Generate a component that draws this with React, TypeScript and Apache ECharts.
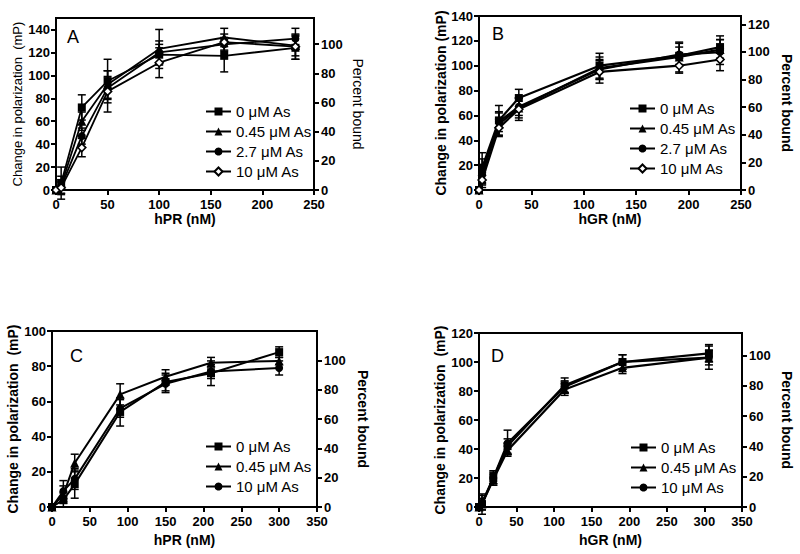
import React, { useEffect, useRef } from "react";
import * as echarts from "echarts";

const FONT = "'Liberation Sans', Arial, Helvetica, sans-serif";

// ---------- Panel A (hPR) ----------
const aX = [0, 5, 25, 50, 100, 163, 232];
const aNames = ["0 μM As", "0.45 μM As", "2.7 μM As", "10 μM As"];
const aY0 = [0, 6, 72, 95, 118, 117, 124];
const aY045 = [0, 4, 60, 92, 123, 133, 126];
const aY27 = [0, 3, 47, 89, 120, 127, 132];
const aY10 = [0, 2, 37, 86, 111, 129, 125];
const aE0 = [0, 14, 11, 19, 9, 14, 10];
const aE045 = [0, 8, 8, 12, 17, 8, 9];
const aE27 = [0, 6, 7, 10, 10, 6, 9];
const aE10 = [0, 5, 8, 18, 13, 7, 11];
const aLeftTicks = [0, 20, 40, 60, 80, 100, 120, 140];
const aRightTicks = [0, 20, 40, 60, 80, 100];
const aXTicks = [0, 50, 100, 150, 200, 250];

// ---------- Panel B (hGR) ----------
const bX = [0, 3, 19, 38, 115, 191, 230];
const bNames = ["0 μM As", "0.45 μM As", "2.7 μM As", "10 μM As"];
const bY0 = [0, 18, 56, 74, 100, 108, 115];
const bY045 = [0, 15, 53, 66, 98, 107, 113];
const bY27 = [0, 12, 55, 67, 97, 109, 111];
const bY10 = [0, 8, 50, 65, 95, 100, 105];
const bE0 = [0, 12, 12, 7, 10, 7, 9];
const bE045 = [0, 10, 9, 8, 9, 12, 8];
const bE27 = [0, 8, 8, 7, 8, 9, 10];
const bE10 = [0, 6, 7, 9, 9, 6, 9];
const bLeftTicks = [0, 20, 40, 60, 80, 100, 120, 140];
const bRightTicks = [0, 20, 40, 60, 80, 100, 120];
const bXTicks = [0, 50, 100, 150, 200, 250];

// ---------- Panel C (hPR) ----------
const cX = [0, 15, 30, 90, 150, 210, 300];
const cNames = ["0 μM As", "0.45 μM As", "10 μM As"];
const cY0 = [0, 4, 13, 54, 71, 76, 88];
const cY045 = [0, 7, 25, 64, 74, 82, 83];
const cY10 = [0, 9, 16, 56, 70, 77, 79];
const cE0 = [0, 4, 8, 8, 5, 7, 3];
const cE045 = [0, 5, 5, 6, 4, 3, 2];
const cE10 = [0, 6, 6, 5, 5, 4, 4];
const cLeftTicks = [0, 20, 40, 60, 80, 100];
const cRightTicks = [0, 20, 40, 60, 80, 100];
const cXTicks = [0, 50, 100, 150, 200, 250, 300, 350];

// ---------- Panel D (hGR) ----------
const dX = [0, 4, 19, 38, 114, 191, 306];
const dNames = ["0 μM As", "0.45 μM As", "10 μM As"];
const dY0 = [0, 2, 20, 42, 84, 100, 106];
const dY045 = [0, 2, 19, 39, 81, 96, 103];
const dY10 = [0, 3, 20, 44, 83, 100, 103];
const dE0 = [0, 7, 5, 5, 5, 5, 6];
const dE045 = [0, 4, 4, 3, 4, 4, 5];
const dE10 = [0, 5, 4, 9, 4, 5, 8];
const dLeftTicks = [0, 20, 40, 60, 80, 100, 120];
const dRightTicks = [0, 20, 40, 60, 80, 100];
const dXTicks = [0, 50, 100, 150, 200, 250, 300, 350];

type SymDef = { symbol: string; fill: string };
const SQUARE: SymDef = { symbol: "rect", fill: "#000" };
const TRI: SymDef = { symbol: "triangle", fill: "#000" };
const CIRC: SymDef = { symbol: "circle", fill: "#000" };
const DIAM: SymDef = { symbol: "diamond", fill: "#fff" };

type Panel = {
  id: string;
  letter: string;
  xName: string;
  x: number[];
  names: string[];
  ys: number[][];
  es: number[][];
  syms: SymDef[];
  grid: { left: number; top: number; width: number; height: number };
  xMax: number;
  leftMax: number;
  rightMax: number;
  xTicks: number[];
  leftTicks: number[];
  rightTicks: number[];
  yNameBold: boolean;
  yNameSize: number;
  yName: string;
  leftGap: number;
  rightGap: number;
  xGap: number;
  legend: { left: number; top: number };
  letterPos: [number, number];
  lineWidth: number;
};

const panels: Panel[] = [
  {
    id: "A", letter: "A", xName: "hPR (nM)", x: aX, names: aNames,
    ys: [aY0, aY045, aY27, aY10], es: [aE0, aE045, aE27, aE10],
    syms: [SQUARE, TRI, CIRC, DIAM],
    grid: { left: 56, top: 18, width: 258, height: 172 },
    xMax: 250, leftMax: 150, rightMax: 118,
    xTicks: aXTicks, leftTicks: aLeftTicks, rightTicks: aRightTicks,
    yNameBold: false, yNameSize: 13, yName: "Change in polarization  (mP)",
    leftGap: 32, rightGap: 37, xGap: 22,
    legend: { left: 205, top: 104 }, letterPos: [67, 28], lineWidth: 1.8,
  },
  {
    id: "B", letter: "B", xName: "hGR (nM)", x: bX, names: bNames,
    ys: [bY0, bY045, bY27, bY10], es: [bE0, bE045, bE27, bE10],
    syms: [SQUARE, TRI, CIRC, DIAM],
    grid: { left: 479, top: 16, width: 262, height: 174 },
    xMax: 250, leftMax: 140, rightMax: 126,
    xTicks: bXTicks, leftTicks: bLeftTicks, rightTicks: bRightTicks,
    yNameBold: true, yNameSize: 14, yName: "Change in polarization (mP)",
    leftGap: 31, rightGap: 39, xGap: 22,
    legend: { left: 629, top: 101 }, letterPos: [492, 25], lineWidth: 2.2,
  },
  {
    id: "C", letter: "C", xName: "hPR (nM)", x: cX, names: cNames,
    ys: [cY0, cY045, cY10], es: [cE0, cE045, cE10],
    syms: [SQUARE, TRI, CIRC],
    grid: { left: 52, top: 331, width: 265, height: 176 },
    xMax: 350, leftMax: 100, rightMax: 120,
    xTicks: cXTicks, leftTicks: cLeftTicks, rightTicks: cRightTicks,
    yNameBold: true, yNameSize: 14, yName: "Change in polarization  (mP)",
    leftGap: 32, rightGap: 39, xGap: 26,
    legend: { left: 205, top: 439 }, letterPos: [70, 347], lineWidth: 2,
  },
  {
    id: "D", letter: "D", xName: "hGR (nM)", x: dX, names: dNames,
    ys: [dY0, dY045, dY10], es: [dE0, dE045, dE10],
    syms: [SQUARE, TRI, CIRC],
    grid: { left: 479, top: 333, width: 263, height: 174 },
    xMax: 350, leftMax: 120, rightMax: 115,
    xTicks: dXTicks, leftTicks: dLeftTicks, rightTicks: dRightTicks,
    yNameBold: true, yNameSize: 14, yName: "Change in polarization  (mP)",
    leftGap: 32, rightGap: 38, xGap: 26,
    legend: { left: 630, top: 440 }, letterPos: [491, 347], lineWidth: 2.2,
  },
];

const errorRender = (params: any, api: any) => {
  const xv = api.value(0);
  const lo = api.value(1);
  const hi = api.value(2);
  if (hi - lo <= 0) return { type: "group", children: [] };
  const pLo = api.coord([xv, lo]);
  const pHi = api.coord([xv, hi]);
  const hw = 4;
  const style = { stroke: "#000", lineWidth: 1.5, fill: "none" };
  return {
    type: "group",
    children: [
      { type: "line", shape: { x1: pLo[0], y1: pLo[1], x2: pHi[0], y2: pHi[1] }, style },
      { type: "line", shape: { x1: pLo[0] - hw, y1: pLo[1], x2: pLo[0] + hw, y2: pLo[1] }, style },
      { type: "line", shape: { x1: pHi[0] - hw, y1: pHi[1], x2: pHi[0] + hw, y2: pHi[1] }, style },
    ],
  };
};

function buildOption() {
  const grid: any[] = [];
  const xAxis: any[] = [];
  const yAxis: any[] = [];
  const series: any[] = [];
  const legend: any[] = [];
  const graphic: any[] = [];

  const axisLine = { show: true, onZero: false, lineStyle: { color: "#000", width: 2 } };
  const axisTick = { show: true, inside: false, length: 5, lineStyle: { color: "#000", width: 2 } };
  const labelStyle = { color: "#000", fontWeight: "bold", fontSize: 13, fontFamily: FONT };
  const legendText = { color: "#000", fontSize: 15, fontWeight: "normal", fontFamily: FONT };

  panels.forEach((p, i) => {
    grid.push({ ...p.grid, show: true, borderColor: "#000", borderWidth: 2, backgroundColor: "transparent" });
    xAxis.push({
      type: "value", gridIndex: i, min: 0, max: p.xMax, position: "bottom",
      name: p.xName, nameLocation: "middle", nameGap: p.xGap, nameMoveOverlap: false,
      nameTextStyle: { color: "#000", fontWeight: "bold", fontSize: 14, fontFamily: FONT },
      axisLine, splitLine: { show: false },
      axisTick: { ...axisTick, customValues: p.xTicks },
      axisLabel: { ...labelStyle, margin: 8, customValues: p.xTicks },
    });
    yAxis.push({
      type: "value", gridIndex: i, min: 0, max: p.leftMax, position: "left",
      name: p.yName, nameLocation: "middle", nameGap: p.leftGap, nameMoveOverlap: false,
      nameTextStyle: {
        color: "#000", fontWeight: p.yNameBold ? "bold" : "normal", fontSize: p.yNameSize, fontFamily: FONT,
      },
      axisLine, splitLine: { show: false },
      axisTick: { ...axisTick, customValues: p.leftTicks },
      axisLabel: { ...labelStyle, margin: 6, customValues: p.leftTicks },
    });
    yAxis.push({
      type: "value", gridIndex: i, min: 0, max: p.rightMax, position: "right",
      name: "Percent bound", nameLocation: "middle", nameGap: p.rightGap, nameRotate: -90,
      nameMoveOverlap: false,
      nameTextStyle: {
        color: "#000", fontWeight: p.yNameBold ? "bold" : "normal", fontSize: 14, fontFamily: FONT,
      },
      axisLine, splitLine: { show: false },
      axisTick: { ...axisTick, customValues: p.rightTicks },
      axisLabel: { ...labelStyle, margin: 7, customValues: p.rightTicks },
    });

    p.names.forEach((nm, s) => {
      const ys = p.ys[s];
      const es = p.es[s];
      series.push({
        type: "custom", name: `${p.id}-err-${s}`, xAxisIndex: i, yAxisIndex: 2 * i,
        renderItem: errorRender, silent: true, z: 2, clip: false,
        encode: { x: 0, y: [1, 2] },
        data: p.x.map((xv, k) => [xv, ys[k] - es[k], ys[k] + es[k]]),
      });
      series.push({
        type: "line", name: `${p.id}|${nm}`, xAxisIndex: i, yAxisIndex: 2 * i,
        data: p.x.map((xv, k) => [xv, ys[k]]),
        symbol: p.syms[s].symbol, symbolSize: p.syms[s].symbol === "triangle" ? 9 : 8,
        showAllSymbol: true,
        lineStyle: { color: "#000", width: p.lineWidth },
        itemStyle: { color: p.syms[s].fill, borderColor: "#000", borderWidth: p.syms[s].fill === "#fff" ? 1.6 : 0 },
        z: 3, clip: false,
      });
    });

    legend.push({
      left: p.legend.left, top: p.legend.top, orient: "vertical", padding: 0,
      itemWidth: 25, itemHeight: 10, itemGap: 5, selectedMode: false,
      data: p.names.map((nm) => ({ name: `${p.id}|${nm}`, textStyle: legendText })),
      formatter: (name: string) => name.split("|")[1],
      textStyle: legendText,
    });

    graphic.push({
      type: "text", left: p.letterPos[0], top: p.letterPos[1],
      style: { text: p.letter, fill: "#000", font: `normal 18px ${FONT}` },
    });
  });

  return {
    animation: false,
    backgroundColor: "#fff",
    grid, xAxis, yAxis, series, legend, graphic,
  };
}

export default function App() {
  const ref = useRef<HTMLDivElement>(null);
  useEffect(() => {
    if (!ref.current) return;
    const chart = echarts.init(ref.current, undefined, { renderer: "svg" });
    chart.setOption(buildOption() as any);
    return () => chart.dispose();
  }, []);
  return (
    <div
      ref={ref}
      style={{ position: "absolute", left: 0, top: 0, width: 800, height: 554, background: "#fff" }}
    />
  );
}
